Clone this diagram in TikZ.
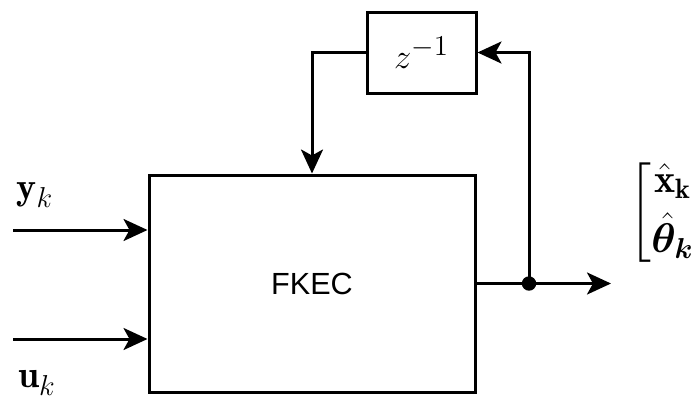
\documentclass[tikz,border=0pt]{standalone}
\usepackage{amsmath,bm}
\usepackage{fontspec}
\newfontfamily\arialf{Liberation Sans}
\usetikzlibrary{arrows.meta}
\begin{document}
\begin{tikzpicture}[x=0.5pt,y=-0.5pt, line width=1.5pt,
  blk/.style={draw, line width=1.5pt, inner sep=0pt},
  arr/.style={-{Stealth[length=12pt,width=11pt,inset=3pt]}},
  lbl/.style={inner sep=0pt, font=\fontsize{19}{23}\selectfont}]
\useasboundingbox (0,0) rectangle (691,397);
\node[blk, minimum width=163pt, minimum height=108.5pt, font=\fontsize{15.3}{18}\selectfont\arialf] (main) at (312,283.5) {FKEC};
\node[blk, minimum width=54.5pt, minimum height=40.5pt, font=\fontsize{19}{23}\selectfont] (z) at (421.5,52.5) {$z^{-1}$};
\draw[arr] (z.west) -| (main.north);
\coordinate (junc) at (529,283.5);
\coordinate (out) at (611,283.5);
\draw[arr] (main.east) -- (out);
\draw[arr] (junc) |- (z.east);
\fill (junc) circle (3.6pt);
\coordinate (yin) at (13,230);
\coordinate (uin) at (13,339);
\draw[arr] (yin) -- (yin -| main.west);
\draw[arr] (uin) -- (uin -| main.west);
\node[lbl] (ylab) at (35,195) {$\mathbf{y}_k$};
\node[lbl] (ulab) at (37,383) {$\mathbf{u}_k$};
\node[lbl, anchor=west, font=\fontsize{20}{24}\selectfont] (outlab) at (628,213) {$\left[\begin{array}{@{}c@{}}\hat{\mathbf{x}}_{\mathbf{k}}\\[3pt]\hat{\bm\theta}_{\bm k}\end{array}\right]$};
\end{tikzpicture}
\end{document}
